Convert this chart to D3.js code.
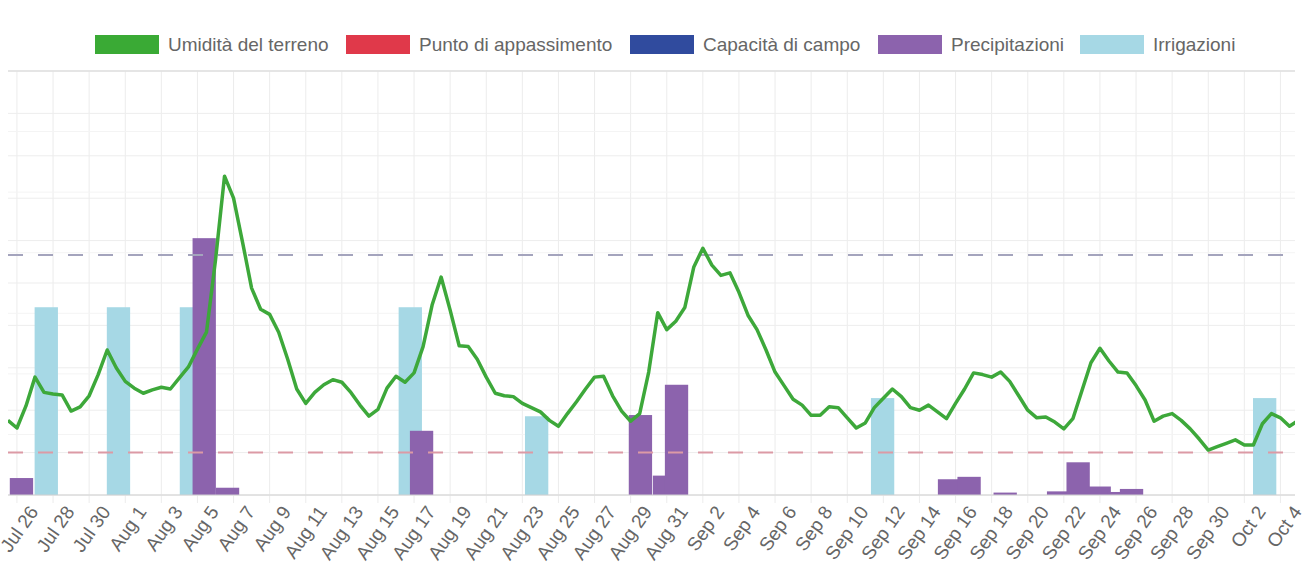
<!DOCTYPE html>
<html>
<head>
<meta charset="utf-8">
<script src="https://cdn.jsdelivr.net/npm/d3@7"></script>
<style>
  body { margin: 0; background: #fff; }
  svg { display: block; font-family: "Liberation Sans", Arial, sans-serif; }
</style>
</head>
<body>
<svg id="chart" width="1303" height="570"></svg>
<script>
// soil moisture readings, every 12 hours from the first timestamp
const moistureStart = '2023-07-24T12:00';
const moisture = [
  8.8, 7.9, 10.5, 13.9, 12.1, 11.9, 11.8, 9.9, 10.4, 11.7,
  14.2, 17.1, 15.0, 13.4, 12.6, 12.0, 12.4, 12.7, 12.5, 13.8,
  15.1, 17.2, 19.2, 27.7, 37.6, 35.0, 29.8, 24.4, 21.9, 21.3,
  19.2, 16.0, 12.5, 10.8, 12.1, 13.0, 13.6, 13.3, 12.1, 10.6,
  9.3, 10.1, 12.6, 14.0, 13.3, 14.4, 17.5, 22.4, 25.7, 21.8,
  17.6, 17.5, 16.0, 13.9, 12.0, 11.7, 11.6, 10.8, 10.3, 9.8,
  8.8, 8.1, 9.6, 11.0, 12.5, 13.9, 14.0, 11.7, 9.9, 8.7,
  9.6, 14.5, 21.5, 19.5, 20.5, 22.1, 26.9, 29.1, 27.1, 25.9,
  26.2, 23.9, 21.2, 19.5, 17.1, 14.5, 12.9, 11.3, 10.6, 9.4,
  9.4, 10.4, 10.3, 9.1, 7.9, 8.5, 10.3, 11.4, 12.5, 11.6,
  10.3, 10.0, 10.6, 9.8, 9.0, 10.8, 12.5, 14.4, 14.2, 13.9,
  14.5, 13.4, 11.7, 10.0, 9.1, 9.2, 8.6, 7.8, 9.0, 12.3,
  15.6, 17.3, 15.8, 14.5, 14.4, 12.9, 11.2, 8.7, 9.3, 9.6,
  8.8, 7.8, 6.6, 5.3, 5.7, 6.1, 6.5, 5.9, 5.9, 8.4,
  9.6, 9.1, 8.1, 8.8
];

const wiltingPoint = 5.0;
const fieldCapacity = 28.3;

// precipitation events (mm)
const rainDates = [
  '2023-07-25T06:00', '2023-08-04T09:00', '2023-08-05T16:00', '2023-08-16T10:00',
  '2023-08-28T13:00', '2023-08-29T21:00', '2023-08-30T13:00', '2023-09-14T16:00',
  '2023-09-15T18:00', '2023-09-17T18:00', '2023-09-20T17:00', '2023-09-21T19:00',
  '2023-09-22T23:00', '2023-09-24T02:00', '2023-09-24T18:00'
];
const rainValues = [1.4, 21.2, 0.6, 5.3, 6.6, 1.6, 9.1, 1.3, 1.5, 0.2, 0.3, 2.7, 0.7, 0.25, 0.5];

// irrigation events (mm)
const irrigationDates = [
  '2023-07-26T15:00', '2023-07-30T15:00', '2023-08-03T16:00', '2023-08-15T19:00',
  '2023-08-22T19:00', '2023-09-10T23:00', '2023-10-02T03:00'
];
const irrigationValues = [15.5, 15.5, 15.5, 15.5, 6.5, 8.0, 8.0];

const legendLabels = ['Umidità del terreno', 'Punto di appassimento', 'Capacità di campo', 'Precipitazioni', 'Irrigazioni'];
const legendColors = ['#3aaa35', '#e0394a', '#304b9e', '#8c63ad', '#a6d8e5'];

const parse = d3.timeParse('%Y-%m-%dT%H:%M');
const t0 = parse(moistureStart);
const moistureData = moisture.map((v, i) => ({ t: d3.timeHour.offset(t0, 12 * i), v }));
const rainData = rainDates.map((d, i) => ({ t: parse(d), v: rainValues[i] }));
const irrData = irrigationDates.map((d, i) => ({ t: parse(d), v: irrigationValues[i] }));

const svg = d3.select('#chart');
const plot = { left: 8, right: 1295, top: 71, bottom: 495 };

const x = d3.scaleTime()
  .domain([new Date(2023, 6, 26), new Date(2023, 9, 4)])
  .range([35, 35 + 70 * 18.05]);
const y = d3.scaleLinear().domain([0, 50]).range([plot.bottom, plot.top]);
const yBar = d3.scaleLinear().domain([0, 35]).range([plot.bottom, plot.top]);

svg.append('clipPath').attr('id', 'clip')
  .append('rect')
  .attr('x', plot.left).attr('y', plot.top - 2)
  .attr('width', plot.right - plot.left).attr('height', plot.bottom - plot.top + 4);

// grid
const grid = svg.append('g');
const oddDays = d3.timeDay.range(new Date(2023, 6, 23), new Date(2023, 9, 6), 2)
  .filter(d => x(d) >= plot.left && x(d) <= plot.right);
grid.selectAll('line.v').data(oddDays).join('line')
  .attr('x1', d => x(d)).attr('x2', d => x(d))
  .attr('y1', plot.top).attr('y2', plot.bottom + 8)
  .attr('stroke', '#ececec');
grid.selectAll('line.h').data(y.ticks(10)).join('line')
  .attr('x1', plot.left).attr('x2', plot.right)
  .attr('y1', d => y(d)).attr('y2', d => y(d))
  .attr('stroke', '#ededed');
grid.selectAll('line.h2').data(yBar.ticks(7)).join('line')
  .attr('x1', plot.left).attr('x2', plot.right)
  .attr('y1', d => yBar(d)).attr('y2', d => yBar(d))
  .attr('stroke', '#f4f4f4');
grid.append('line')
  .attr('x1', plot.left).attr('x2', plot.right)
  .attr('y1', plot.top).attr('y2', plot.top)
  .attr('stroke', '#d6d6d6').attr('stroke-width', 1.2);

const body = svg.append('g').attr('clip-path', 'url(#clip)');
const barW = t => x(d3.timeHour.offset(t, 31)) - x(t);

body.selectAll('rect.irr').data(irrData).join('rect')
  .attr('x', d => x(d.t) - barW(d.t) / 2)
  .attr('width', d => barW(d.t))
  .attr('y', d => yBar(d.v))
  .attr('height', d => plot.bottom - yBar(d.v))
  .attr('fill', legendColors[4]);

body.selectAll('rect.rain').data(rainData).join('rect')
  .attr('x', d => x(d.t) - barW(d.t) / 2)
  .attr('width', d => barW(d.t))
  .attr('y', d => yBar(d.v))
  .attr('height', d => plot.bottom - yBar(d.v))
  .attr('fill', legendColors[3]);

// threshold lines (faded dashed)
[[fieldCapacity, '#a4a4bd'], [wiltingPoint, '#dc9aa5']].forEach(([v, c]) => {
  body.append('line')
    .attr('x1', plot.left).attr('x2', plot.right)
    .attr('y1', y(v)).attr('y2', y(v))
    .attr('stroke', c)
    .attr('stroke-width', 2).attr('stroke-dasharray', '15,15');
});

// bottom axis line
svg.append('line')
  .attr('x1', plot.left).attr('x2', plot.right)
  .attr('y1', plot.bottom).attr('y2', plot.bottom)
  .attr('stroke', '#d0d0d0');

const line = d3.line().x(d => x(d.t)).y(d => y(d.v));
body.append('path')
  .datum(moistureData)
  .attr('d', line)
  .attr('fill', 'none')
  .attr('stroke', '#3da83a')
  .attr('stroke-width', 3.5)
  .attr('stroke-linejoin', 'round');

// x tick labels every 2 days
const ticks = d3.timeDay.range(new Date(2023, 6, 26), new Date(2023, 9, 5), 2);
const fmt = d3.timeFormat('%b %-d');
svg.append('g').selectAll('text').data(ticks).join('text')
  .attr('transform', d => `translate(${x(d)},509) rotate(-55)`)
  .attr('text-anchor', 'end')
  .attr('dominant-baseline', 'middle')
  .attr('font-size', 19)
  .attr('fill', '#666')
  .text(d => fmt(d));

// legend
const legendX = [95, 346, 630, 878, 1080];
const lg = svg.append('g');
legendLabels.forEach((lab, i) => {
  lg.append('rect')
    .attr('x', legendX[i]).attr('y', 35)
    .attr('width', 64).attr('height', 19)
    .attr('fill', legendColors[i]);
  lg.append('text')
    .attr('x', legendX[i] + 73).attr('y', 51)
    .attr('font-size', 19)
    .attr('fill', '#666')
    .text(lab);
});
</script>
</body>
</html>
